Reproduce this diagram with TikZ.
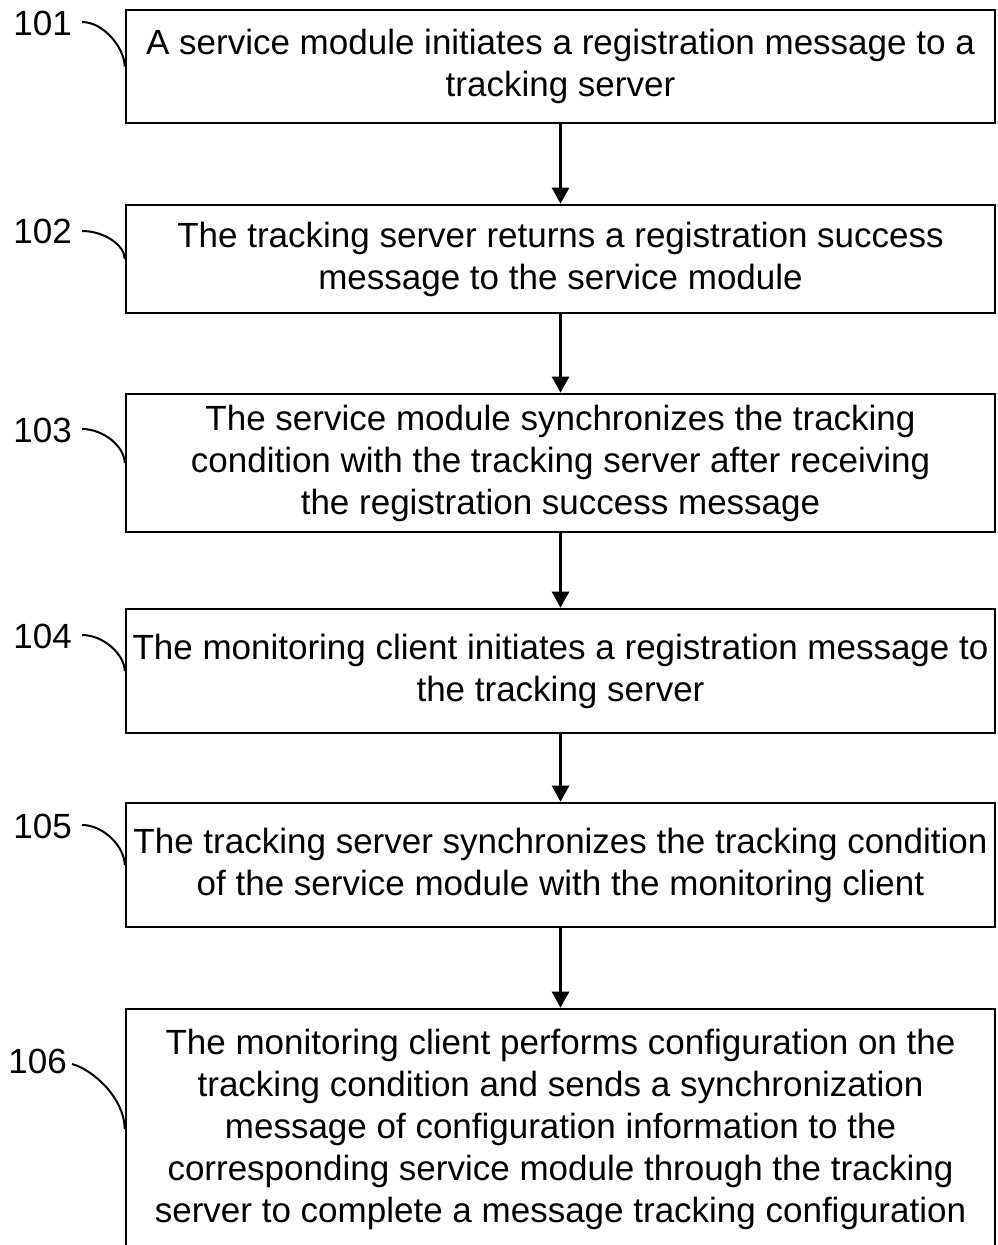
\documentclass[tikz,border=0pt]{standalone}
\usepackage{fontspec}
\setmainfont{Liberation Sans}
\usetikzlibrary{arrows.meta}
\begin{document}
\begin{tikzpicture}[x=1pt,y=-1pt,
  stepbox/.style={draw,line width=2.6pt,rectangle,inner sep=0pt,minimum width=869pt,
    align=center,font=\fontsize{35}{42}\selectfont},
  lab/.style={inner sep=0pt,anchor=east,font=\fontsize{35}{40}\selectfont},
  flow/.style={line width=2.6pt,-{Triangle[width=17pt,length=16pt]}},
  lead/.style={line width=2pt}]
\useasboundingbox (0,0) rectangle (998,1245);
\node[stepbox,minimum height=113pt] (b1) at (560.5,66.5) {A service module initiates a registration message to a\\tracking server};
\node[stepbox,minimum height=108pt] (b2) at (560.5,259) {The tracking server returns a registration success\\message to the service module};
\node[stepbox,minimum height=138pt] (b3) at (560.5,463) {The service module synchronizes the tracking\\condition with the tracking server after receiving\\the registration success message};
\node[stepbox,minimum height=124pt] (b4) at (560.5,671) {The monitoring client initiates a registration message to\\the tracking server};
\node[stepbox,minimum height=124pt] (b5) at (560.5,865) {The tracking server synchronizes the tracking condition\\of the service module with the monitoring client};
\node[stepbox,minimum height=240pt] (b6) at (560.5,1129) {The monitoring client performs configuration on the\\tracking condition and sends a synchronization\\message of configuration information to the\\corresponding service module through the tracking\\server to complete a message tracking configuration};
\draw[flow] (b1.south) -- (b2.north);
\draw[flow] (b2.south) -- (b3.north);
\draw[flow] (b3.south) -- (b4.north);
\draw[flow] (b4.south) -- (b5.north);
\draw[flow] (b5.south) -- (b6.north);
\node[lab] (l1) at (72,23) {101};
\node[lab] (l2) at (72,231) {102};
\node[lab] (l3) at (72,430) {103};
\node[lab] (l4) at (72,636) {104};
\node[lab] (l5) at (72,826) {105};
\node[lab] (l6) at (67,1061) {106};
\draw[lead] ([xshift=10pt,yshift=1pt]l1.east) .. controls +(22,0) and +(0,-18) .. (b1.west);
\draw[lead] ([xshift=10pt,yshift=0pt]l2.east) .. controls +(22,0) and +(0,-14) .. (b2.west);
\draw[lead] ([xshift=10pt,yshift=1pt]l3.east) .. controls +(22,0) and +(0,-16) .. (b3.west);
\draw[lead] ([xshift=10pt,yshift=1pt]l4.east) .. controls +(22,0) and +(0,-16) .. (b4.west);
\draw[lead] ([xshift=10pt,yshift=1pt]l5.east) .. controls +(22,0) and +(0,-18) .. (b5.west);
\draw[lead] ([xshift=5pt,yshift=-3pt]l6.east) .. controls +(22,6) and +(0,-30) .. (b6.west);
\end{tikzpicture}
\end{document}
